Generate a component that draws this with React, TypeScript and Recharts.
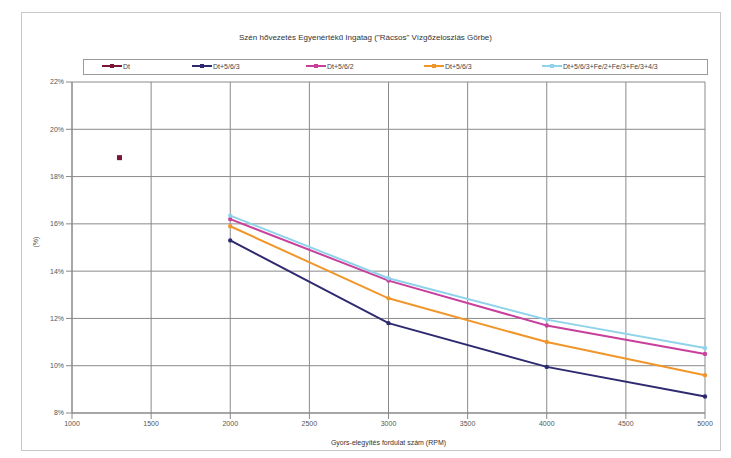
import { LineChart, Line, XAxis, YAxis, CartesianGrid, Label } from 'recharts'

const rpm = [2000, 3000, 4000, 5000]
const xTicks = [1000, 1500, 2000, 2500, 3000, 3500, 4000, 4500, 5000]
const yTicks = [8, 10, 12, 14, 16, 18, 20, 22]

const dtPoint = { x: 1300, y: 18.8 }
const navy = [15.3, 11.8, 9.95, 8.7]
const magenta = [16.2, 13.6, 11.7, 10.5]
const orange = [15.9, 12.85, 11.0, 9.6]
const cyan = [16.35, 13.7, 11.95, 10.75]

const names = ['Dt', 'Dt+5/6/3', 'Dt+5/6/2', 'Dt+5/6/3', 'Dt+5/6/3+Fe/2+Fe/3+Fe/3+4/3']
const colors = ['#7a1535', '#2e2a70', '#c8409c', '#f0962a', '#8fd3ea']

const toRows = (vals: number[]) => rpm.map((x, i) => ({ x, y: vals[i] }))

const font = '"Liberation Sans", Arial, sans-serif'

function LegendBox() {
  const slots = [18, 108, 222, 340, 458]
  return (
    <div style={{ position: 'absolute', left: 83, top: 59, width: 623, height: 14, border: '1px solid #9a9a9a', background: '#fff', fontFamily: font, fontSize: 7, color: '#444' }}>
      {names.map((n, i) => (
        <div key={i} style={{ position: 'absolute', left: slots[i], top: 2, display: 'flex', alignItems: 'center' }}>
          <svg width={20} height={8}>
            <line x1={0} y1={4} x2={20} y2={4} stroke={colors[i]} strokeWidth={2} />
            <rect x={8} y={2} width={4} height={4} fill={colors[i]} />
          </svg>
          <span style={{ marginLeft: 1 }}>{n}</span>
        </div>
      ))}
    </div>
  )
}

const SquareDot = (props: { cx?: number; cy?: number; index?: number }) => {
  const { cx, cy, index } = props
  if (cx == null || cy == null) return <g key={index} />
  return <rect key={index} x={cx - 2.5} y={cy - 2.5} width={5} height={5} fill={colors[0]} />
}

export default function App() {
  return (
    <div style={{ position: 'absolute', left: 0, top: 0, width: 731, height: 458, background: '#fff' }}>
      <div style={{ position: 'absolute', left: 21, top: 12, width: 698, height: 437, border: '1px solid #c8c8c8' }} />
      <div style={{ position: 'absolute', left: 0, top: 33, width: 731, textAlign: 'center', fontFamily: font, fontSize: 8, color: '#333' }}>
        Szén hővezetés Egyenértékű Ingatag ("Rácsos" Vízgőzeloszlás Görbe)
      </div>
      <div style={{ position: 'absolute', left: 0, top: 0 }}>
        <LineChart width={731} height={458} margin={{ top: 82, right: 26, bottom: 25, left: 22 }}>
          <CartesianGrid stroke="#8a8a8a" strokeWidth={1} />
          <XAxis
            type="number"
            dataKey="x"
            domain={[1000, 5000]}
            ticks={xTicks}
            interval={0}
            allowDuplicatedCategory={false}
            tick={{ fontSize: 7, fill: '#555', fontFamily: font }}
            stroke="#888"
            height={20}
          >
            <Label value="Gyors-elegyítés fordulat szám (RPM)" position="insideBottom" offset={-12} style={{ fontSize: 7, fill: '#333', fontFamily: font }} />
          </XAxis>
          <YAxis
            type="number"
            dataKey="y"
            domain={[8, 22]}
            ticks={yTicks}
            interval={0}
            tick={{ fontSize: 7, fill: '#555', fontFamily: font }}
            tickFormatter={(v: number) => `${v}%`}
            stroke="#888"
            width={50}
          >
            <Label value="(%)" angle={-90} position="insideLeft" offset={14} style={{ fontSize: 7, fill: '#555', fontFamily: font }} />
          </YAxis>
          <Line data={[dtPoint]} dataKey="y" name={names[0]} stroke={colors[0]} strokeWidth={0}
            dot={SquareDot} isAnimationActive={false} />
          <Line data={toRows(navy)} dataKey="y" name={names[1]} stroke={colors[1]} strokeWidth={2} dot={{ r: 1.2, fill: colors[1] }} isAnimationActive={false} />
          <Line data={toRows(magenta)} dataKey="y" name={names[2]} stroke={colors[2]} strokeWidth={2} dot={{ r: 1.2, fill: colors[2] }} isAnimationActive={false} />
          <Line data={toRows(orange)} dataKey="y" name={names[3]} stroke={colors[3]} strokeWidth={2} dot={{ r: 1.2, fill: colors[3] }} isAnimationActive={false} />
          <Line data={toRows(cyan)} dataKey="y" name={names[4]} stroke={colors[4]} strokeWidth={2} dot={{ r: 1.2, fill: colors[4] }} isAnimationActive={false} />
        </LineChart>
      </div>
      <LegendBox />
    </div>
  )
}
